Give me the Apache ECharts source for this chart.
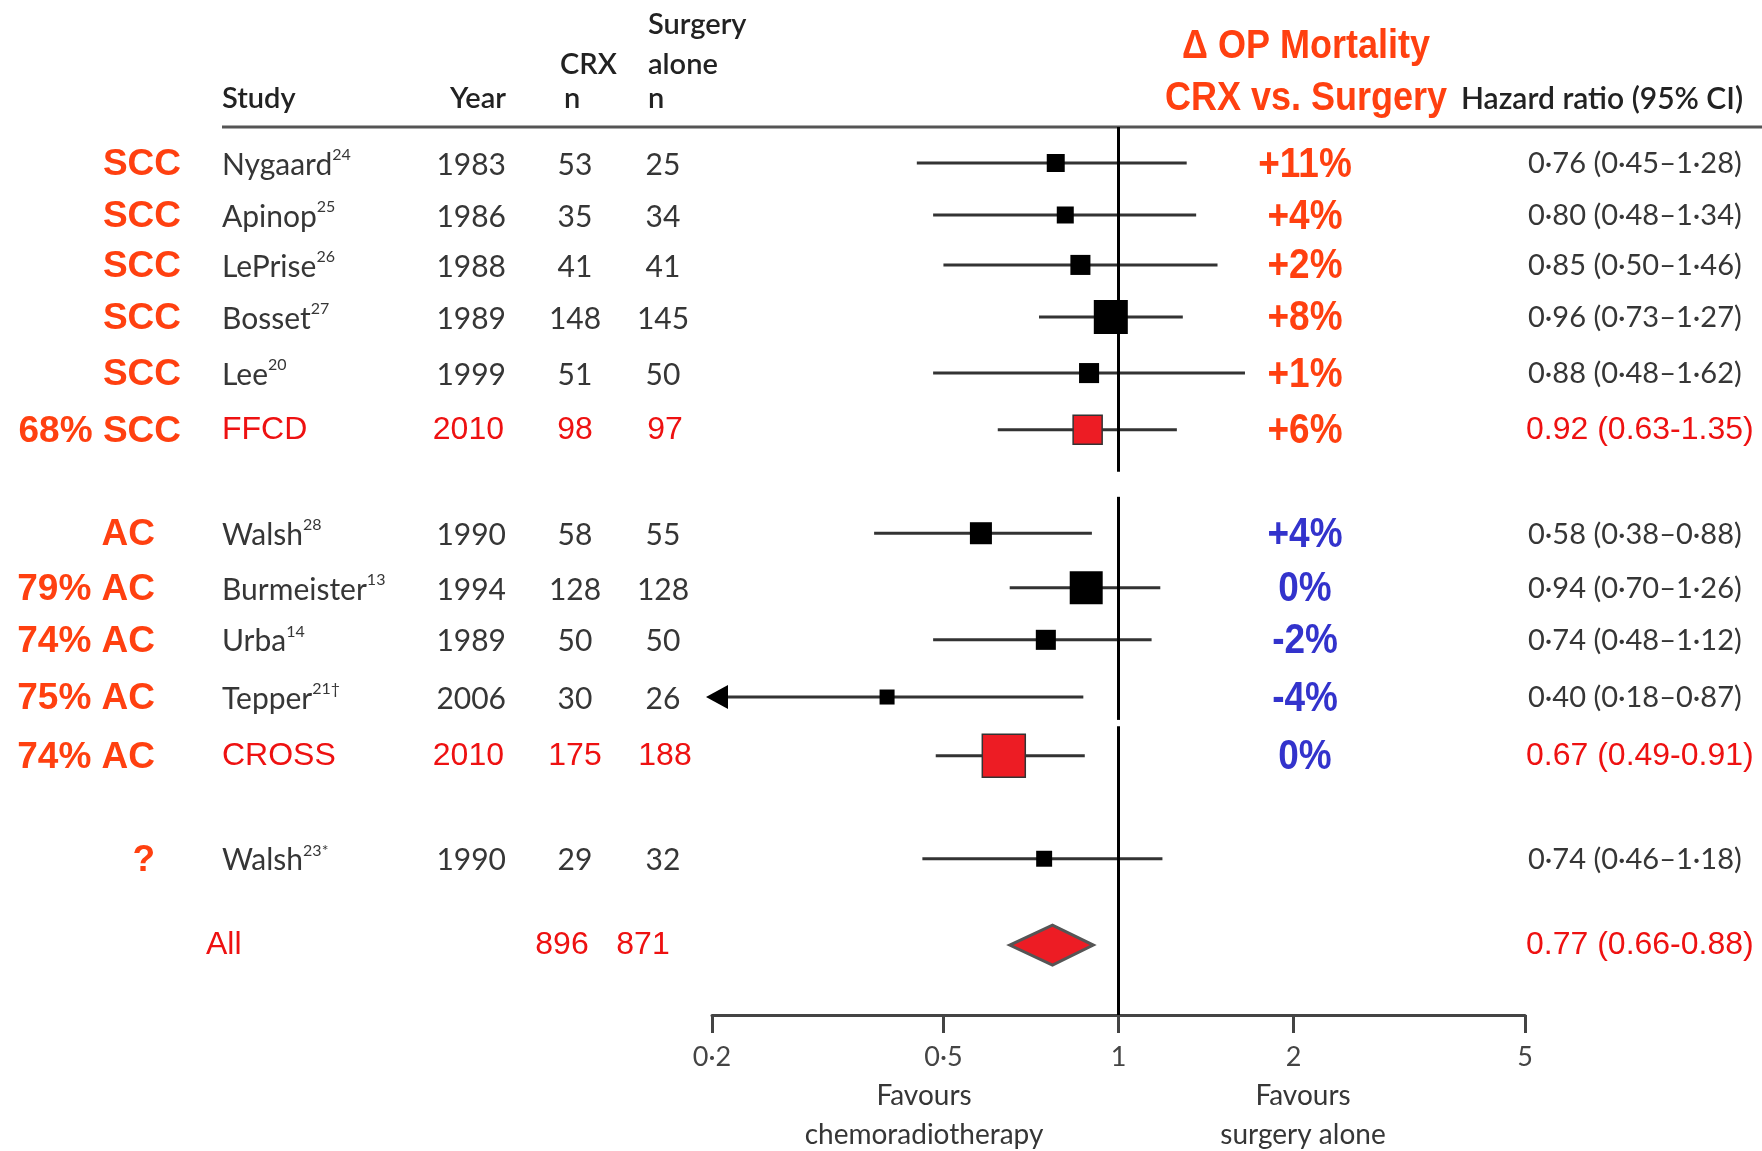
<!DOCTYPE html>
<html>
<head>
<meta charset="utf-8">
<title>Forest plot</title>
<script src="https://cdn.jsdelivr.net/npm/echarts@6/dist/echarts.min.js"></script>
<style>
  html, body { margin: 0; padding: 0; background: #fff; }
  #chart { width: 1762px; height: 1151px; }
</style>
</head>
<body>
<div id="chart"></div>
<script>
// rows, top to bottom
var histology = ['SCC', 'SCC', 'SCC', 'SCC', 'SCC', '68% SCC', 'AC', '79% AC', '74% AC', '75% AC', '74% AC', '?', ''];
var studies = ['Nygaard', 'Apinop', 'LePrise', 'Bosset', 'Lee', 'FFCD', 'Walsh', 'Burmeister', 'Urba', 'Tepper', 'CROSS', 'Walsh', 'All'];
var refs = ['24', '25', '26', '27', '20', '', '28', '13', '14', '21†', '', '23*', ''];
var years = ['1983', '1986', '1988', '1989', '1999', '2010', '1990', '1994', '1989', '2006', '2010', '1990', ''];
var crxN = ['53', '35', '41', '148', '51', '98', '58', '128', '50', '30', '175', '29', '896'];
var surgeryN = ['25', '34', '41', '145', '50', '97', '55', '128', '50', '26', '188', '32', '871'];
var opMortality = ['+11%', '+4%', '+2%', '+8%', '+1%', '+6%', '+4%', '0%', '-2%', '-4%', '0%', '', ''];
var hrLabels = ['0·76 (0·45–1·28)', '0·80 (0·48–1·34)', '0·85 (0·50–1·46)', '0·96 (0·73–1·27)',
  '0·88 (0·48–1·62)', '0.92 (0.63-1.35)', '0·58 (0·38–0·88)', '0·94 (0·70–1·26)', '0·74 (0·48–1·12)',
  '0·40 (0·18–0·87)', '0.67 (0.49-0.91)', '0·74 (0·46–1·18)', '0.77 (0.66-0.88)'];
// plotted estimates, read off the marks
var hr = [0.78, 0.81, 0.86, 0.97, 0.89, 0.885, 0.58, 0.88, 0.75, 0.40, 0.635, 0.745, 0.77];
var ciLow = [0.45, 0.48, 0.50, 0.73, 0.48, 0.62, 0.38, 0.65, 0.48, 0.18, 0.485, 0.46, 0.65];
var ciHigh = [1.31, 1.36, 1.48, 1.29, 1.65, 1.26, 0.90, 1.18, 1.14, 0.87, 0.875, 1.19, 0.905];
var weight = [6.6, 5.9, 8.2, 23.6, 8.2, 17.2, 9.9, 22.2, 8.2, 4.6, 37.7, 5.2, 0];
var newTrial = [0, 0, 0, 0, 0, 1, 0, 0, 0, 0, 1, 0, 1];
var xTicks = [0.2, 0.5, 1, 2, 5];

// layout: vertical slot of each row (rows are not evenly spaced in the original)
var rowSlot = [0, 1, 1.96, 2.96, 4.04, 5.13, 7.12, 8.17, 9.17, 10.27, 11.4, 13.38, 15.04];

var GRAY = '#363636';
var ORANGE = '#ff4010';
var RED = '#ee1111';
var BLUE = '#3333cc';
var TXT = 'Lato, "Open Sans", sans-serif';
var ARIAL = '"Liberation Sans", Arial, sans-serif';

function txt(x, y, s, fill, font, align, sx) {
  return {
    type: 'text', x: x, y: y, scaleX: sx || 1,
    style: { text: s, fill: fill, font: font, align: align || 'left', verticalAlign: 'middle' }
  };
}

var forestData = hr.map(function (v, i) { return [v, rowSlot[i], ciLow[i], ciHigh[i], weight[i]]; });
var tableData = rowSlot.map(function (s) { return [1, s]; });

var headFont = '600 29px ' + TXT;
var option = {
  animation: false,
  grid: { left: 712, right: 237, top: 7, bottom: 136 },
  xAxis: {
    type: 'log', logBase: 10, min: 0.2, max: 5,
    axisLine: { onZero: false, lineStyle: { color: '#444', width: 3 } },
    axisTick: { customValues: xTicks, length: 18, lineStyle: { color: '#444', width: 3 } },
    axisLabel: {
      customValues: xTicks, margin: 29, color: '#444', fontSize: 27, fontFamily: TXT,
      formatter: function (v) { return String(Number(v.toPrecision(3))).replace('.', '·'); }
    },
    splitLine: { show: false }, minorTick: { show: false }
  },
  yAxis: { type: 'value', min: -3, max: 16.385, inverse: true, show: false },
  graphic: [
    { type: 'line', shape: { x1: 222, y1: 127, x2: 1762, y2: 127 }, style: { stroke: '#555', lineWidth: 3 } },
    txt(222, 99, 'Study', '#222', headFont),
    txt(506, 99, 'Year', '#222', headFont, 'right'),
    txt(560, 65, 'CRX', '#222', headFont),
    txt(564, 99, 'n', '#222', headFont),
    txt(648, 25, 'Surgery', '#222', headFont),
    txt(648, 65, 'alone', '#222', headFont),
    txt(648, 99, 'n', '#222', headFont),
    txt(1461, 99, 'Hazard ratio (95% CI)', '#222', '600 30px ' + TXT),
    txt(1306, 47, 'Δ OP Mortality', ORANGE, 'bold 40px ' + ARIAL, 'center', 0.9),
    txt(1306, 99, 'CRX vs. Surgery', ORANGE, 'bold 40px ' + ARIAL, 'center', 0.9),
    txt(924, 1096, 'Favours', GRAY, '28px ' + TXT, 'center'),
    txt(924, 1135, 'chemoradiotherapy', GRAY, '28px ' + TXT, 'center'),
    txt(1303, 1096, 'Favours', GRAY, '28px ' + TXT, 'center'),
    txt(1303, 1135, 'surgery alone', GRAY, '28px ' + TXT, 'center')
  ],
  series: [
    {
      name: 'forest',
      type: 'custom',
      clip: false,
      data: forestData,
      encode: { x: [0, 2, 3], y: 1 },
      renderItem: function (params, api) {
        var i = params.dataIndex;
        var slot = api.value(1);
        var p = api.coord([api.value(0), slot]);
        var lo = api.value(2), hi = api.value(3);
        var pl = api.coord([Math.max(lo, 0.2), slot]);
        var ph = api.coord([hi, slot]);
        var kids = [];
        if (studies[i] === 'All') {
          kids.push({
            type: 'polygon',
            shape: { points: [[pl[0], p[1]], [p[0], p[1] - 20], [ph[0], p[1]], [p[0], p[1] + 20]] },
            style: { fill: '#ed1c24', stroke: '#555', lineWidth: 3 }
          });
          return { type: 'group', children: kids };
        }
        kids.push({ type: 'line', shape: { x1: pl[0], y1: p[1], x2: ph[0], y2: p[1] }, style: { stroke: '#333', lineWidth: 3 } });
        if (lo < 0.2) {
          kids.push({
            type: 'polygon',
            shape: { points: [[pl[0] - 6, p[1]], [pl[0] + 16, p[1] - 12], [pl[0] + 16, p[1] + 12]] },
            style: { fill: '#000' }
          });
        }
        var s = 7 * Math.sqrt(api.value(4));
        kids.push({
          type: 'rect',
          shape: { x: p[0] - s / 2, y: p[1] - s / 2, width: s, height: s },
          style: newTrial[i] ? { fill: '#ed1c24', stroke: '#333', lineWidth: 1.5 } : { fill: '#000' }
        });
        return { type: 'group', children: kids };
      },
      markLine: {
        silent: true, symbol: 'none', label: { show: false },
        lineStyle: { color: '#000', width: 3, type: 'solid' },
        data: [
          [{ coord: [1, -0.69] }, { coord: [1, 5.94] }],
          [{ coord: [1, 6.42] }, { coord: [1, 10.71] }],
          [{ coord: [1, 10.83] }, { coord: [1, 16.385] }]
        ]
      }
    },
    {
      name: 'table',
      type: 'custom',
      clip: false,
      silent: true,
      data: tableData,
      renderItem: function (params, api) {
        var i = params.dataIndex;
        var y = api.coord([1, api.value(1)])[1];
        var isAll = studies[i] === 'All';
        var kids = [];
        var histX = i < 6 ? 181 : 155;
        kids.push(txt(histX, y + 2, histology[i], ORANGE, 'bold 37px ' + ARIAL, 'right'));
        if (newTrial[i]) {
          kids.push(txt(isAll ? 206 : 222, y, studies[i], RED, '32px ' + ARIAL));
          kids.push(txt(504, y, years[i], RED, '32px ' + ARIAL, 'right'));
          kids.push(txt(isAll ? 562 : 575, y, crxN[i], RED, '32px ' + ARIAL, 'center'));
          kids.push(txt(isAll ? 643 : 665, y, surgeryN[i], RED, '32px ' + ARIAL, 'center'));
          kids.push(txt(1526, y, hrLabels[i], RED, '32px ' + ARIAL));
        } else {
          kids.push({
            type: 'text', x: 222, y: y + 2,
            style: {
              text: '{n|' + studies[i] + '}{s|' + refs[i] + '}',
              verticalAlign: 'middle',
              rich: {
                n: { fill: GRAY, font: '30px ' + TXT, lineHeight: 36 },
                s: { fill: GRAY, font: '16px ' + TXT, lineHeight: 18, verticalAlign: 'top' }
              }
            }
          });
          kids.push(txt(506, y + 2, years[i], GRAY, '30px ' + TXT, 'right'));
          kids.push(txt(575, y + 2, crxN[i], GRAY, '30px ' + TXT, 'center'));
          kids.push(txt(663, y + 2, surgeryN[i], GRAY, '30px ' + TXT, 'center'));
          kids.push(txt(1528, y + 1, hrLabels[i], GRAY, '29px ' + TXT));
        }
        if (opMortality[i]) {
          kids.push(txt(1305, y + 2, opMortality[i], i < 6 ? ORANGE : BLUE, 'bold 42px ' + ARIAL, 'center', 0.88));
        }
        return { type: 'group', children: kids };
      }
    }
  ]
};

var chart = echarts.init(document.getElementById('chart'));
chart.setOption(option);
</script>
</body>
</html>
